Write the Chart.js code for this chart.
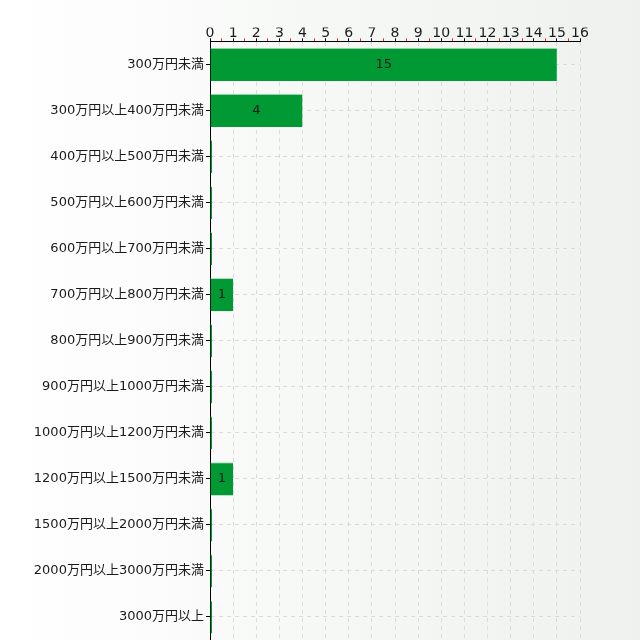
<!DOCTYPE html>
<html>
<head>
<meta charset="utf-8">
<script src="https://cdn.jsdelivr.net/npm/chart.js@4/dist/chart.umd.min.js"></script>
<style>
html,body{margin:0;padding:0;}
body{width:640px;height:640px;background:linear-gradient(to right,#ffffff 0%,#f6f8f6 50%,#eef1ee 100%);overflow:hidden;}
#wrap{position:relative;width:640px;height:640px;}
</style>
</head>
<body>
<div id="wrap"><canvas id="c" width="640" height="640"></canvas></div>
<script>
const categories = [
  "300万円未満",
  "300万円以上400万円未満",
  "400万円以上500万円未満",
  "500万円以上600万円未満",
  "600万円以上700万円未満",
  "700万円以上800万円未満",
  "800万円以上900万円未満",
  "900万円以上1000万円未満",
  "1000万円以上1200万円未満",
  "1200万円以上1500万円未満",
  "1500万円以上2000万円未満",
  "2000万円以上3000万円未満",
  "3000万円以上"
];
const counts = [15, 4, 0, 0, 0, 1, 0, 0, 0, 1, 0, 0, 0];
const axisMin = 0;
const axisMax = 16;

const FONT = "'DejaVu Sans', 'Noto Sans CJK JP', sans-serif";

const valueLabels = {
  id: 'valueLabels',
  afterDatasetsDraw(chart) {
    const ctx = chart.ctx;
    const meta = chart.getDatasetMeta(0);
    ctx.save();
    ctx.font = "13px " + FONT;
    ctx.fillStyle = '#1a1a1a';
    ctx.textAlign = 'center';
    ctx.textBaseline = 'middle';
    meta.data.forEach((bar, i) => {
      const v = chart.data.datasets[0].data[i];
      if (v > 0) {
        const p = bar.getProps(['x', 'y', 'base'], true);
        ctx.fillText(String(v), (p.x + p.base) / 2, p.y);
      }
    });
    ctx.restore();
  }
};

new Chart(document.getElementById('c'), {
  type: 'bar',
  data: {
    labels: categories,
    datasets: [{
      data: counts,
      backgroundColor: '#009933',
      borderColor: '#b5dfc2',
      borderWidth: {top: 1, right: 0, bottom: 0, left: 0},
      minBarLength: 2
    }]
  },
  options: {
    indexAxis: 'y',
    responsive: false,
    animation: false,
    layout: {padding: {top: 27.5, right: 60, bottom: 0, left: 0}},
    plugins: {legend: {display: false}, tooltip: {enabled: false}},
    scales: {
      x: {
        position: 'top',
        min: axisMin,
        max: axisMax,
        ticks: {
          stepSize: 0.5,
          autoSkip: false,
          maxRotation: 0,
          padding: -3,
          color: '#1a1a1a',
          font: {family: FONT, size: 14},
          callback: (v) => Number.isInteger(v) ? String(v) : ''
        },
        grid: {
          color: (c) => (c.tick && Number.isInteger(c.tick.value)) ? '#d9dcd9' : 'rgba(0,0,0,0)',
          tickColor: (c) => (c.tick && Number.isInteger(c.tick.value)) ? '#000' : '#ff2020',
          tickLength: 3,
          tickBorderDash: [],
          lineWidth: 1
        },
        border: {display: true, color: '#000', width: 1, dash: [4, 4]}
      },
      y: {
        afterFit: (s) => { s.width = 210; s.paddingTop = 0; s.paddingBottom = 0; },
        ticks: {
          padding: 2,
          color: '#1a1a1a',
          font: {family: FONT, size: 13}
        },
        grid: {
          offset: false,
          color: '#d9dcd9',
          tickColor: '#000',
          tickLength: 4,
          tickBorderDash: []
        },
        border: {display: true, color: '#000', width: 1, dash: [4, 4]}
      }
    }
  },
  plugins: [valueLabels]
});
</script>
</body>
</html>
